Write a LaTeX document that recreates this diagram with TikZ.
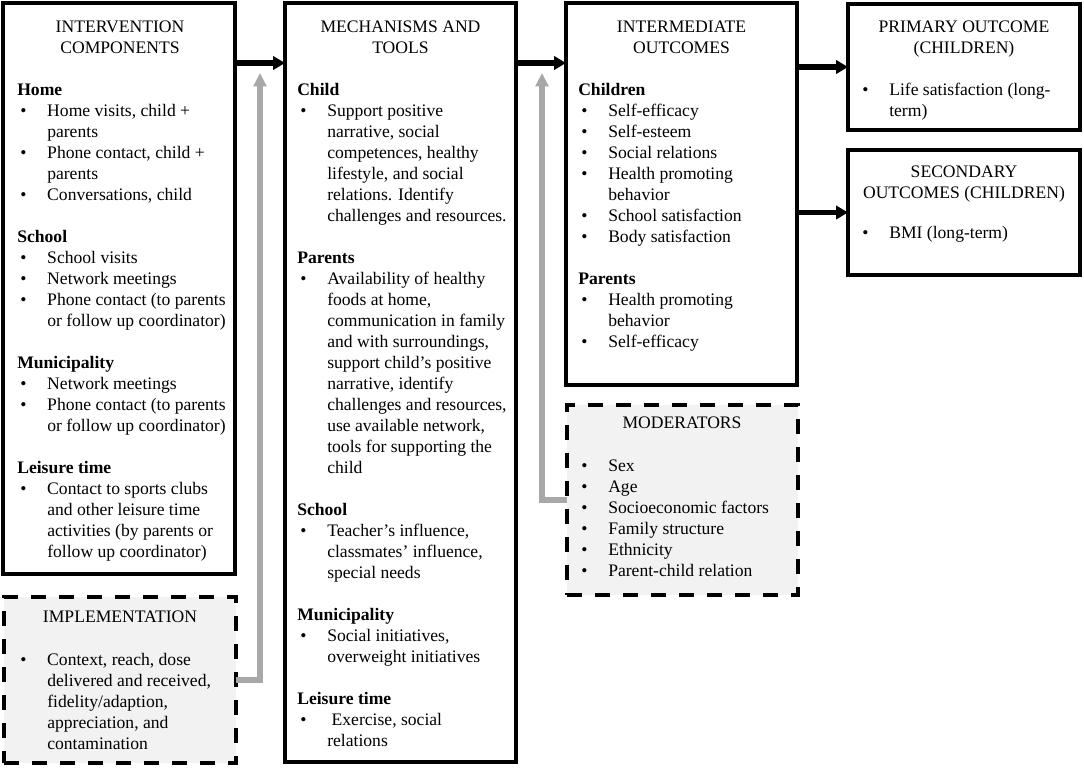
\documentclass[tikz,border=0pt]{standalone}
\usepackage{fontspec}
\setmainfont{Liberation Serif}
\usetikzlibrary{arrows.meta,calc}

\definecolor{boxgray}{HTML}{F2F2F2}
\definecolor{arrgray}{HTML}{A8A8A8}

\def\px{0.75pt}
\newcommand{\itm}{\hspace*{2.25pt}\makebox[20.25pt][l]{\textbullet}}
\newcommand{\cnt}{\hspace*{22.5pt}}
\newcommand{\fst}{\rule{0pt}{12pt}}
\newcommand{\gap}{\\[15.75pt]}

\tikzset{
  box/.style={draw, line width=3pt, anchor=north west, inner sep=0pt, outer sep=0pt},
  dbox/.style={box, fill=boxgray, line width=3.5pt, dash pattern=on 11pt off 10pt},
  txt/.style={anchor=north west, align=left, inner sep=0pt, font=\fontsize{13.2}{15.75}\selectfont},
  ttl/.style={anchor=north, align=center, inner sep=0pt, font=\fontsize{13.2}{15.75}\selectfont},
  arr/.style={line width=4pt, -{Triangle[length=9pt,width=10pt]}},
  garr/.style={line width=4pt, draw=arrgray, arrgray, -{Triangle[length=10pt,width=9.5pt]}},
}

\begin{document}
\begin{tikzpicture}[x=0.75pt, y=-0.75pt]
\useasboundingbox (0,0) rectangle (1084,770);

%%%%%%%%%%%%%%%%%%%%%%%%%%%%%%%%%%%%%%%%%%%%%%%%%%%%%%%%%%%%%%%%%
%%%%%%%%%%%%%%%%%%%%%%%%%%%%%% boxes
\node [box, minimum width=232*\px, minimum height=571*\px] (comp) at (3,3) {};
\node [box, minimum width=231*\px, minimum height=759*\px] (mech) at (285,3) {};
\node [box, minimum width=231*\px, minimum height=382*\px] (inter) at (566,3) {};
\node [box, minimum width=232*\px, minimum height=126*\px] (prim) at (848,4) {};
\node [box, minimum width=232*\px, minimum height=125*\px] (sec) at (848,150) {};

\node [dbox, minimum width=232*\px, minimum height=166*\px] (impl) at (4,597) {};
\node [dbox, minimum width=231*\px, minimum height=190*\px] (moder) at (567,405) {};

%%%%%%%%%%%%%%%%%%%%%%%%%%%%%% intervention components
\node [ttl] (comptitle) at (120,16) {\fst INTERVENTION\\COMPONENTS};
\node [txt] (comptext) at (17,79) {\fst\textbf{Home}\\
\itm Home visits, child +\\
\cnt parents\\
\itm Phone contact, child +\\
\cnt parents\\
\itm Conversations, child\gap
\textbf{School}\\
\itm School visits\\
\itm Network meetings\\
\itm Phone contact (to parents\\
\cnt or follow up coordinator)\gap
\textbf{Municipality}\\
\itm Network meetings\\
\itm Phone contact (to parents\\
\cnt or follow up coordinator)\gap
\textbf{Leisure time}\\
\itm Contact to sports clubs\\
\cnt and other leisure time\\
\cnt activities (by parents or\\
\cnt follow up coordinator)};

%%%%%%%%%%%%%%%%%%%%%%%%%%%%%% mechanisms and tools
\node [ttl] (mechtitle) at (400.5,16) {\fst MECHANISMS AND\\TOOLS};
\node [txt] (mechtext) at (297,79) {\fst\textbf{Child}\\
\itm Support positive\\
\cnt narrative, social\\
\cnt competences, healthy\\
\cnt lifestyle, and social\\
\cnt relations. Identify\\
\cnt challenges and resources.\gap
\textbf{Parents}\\
\itm Availability of healthy\\
\cnt foods at home,\\
\cnt communication in family\\
\cnt and with surroundings,\\
\cnt support child's positive\\
\cnt narrative, identify\\
\cnt challenges and resources,\\
\cnt use available network,\\
\cnt tools for supporting the\\
\cnt child\gap
\textbf{School}\\
\itm Teacher's influence,\\
\cnt classmates' influence,\\
\cnt special needs\gap
\textbf{Municipality}\\
\itm Social initiatives,\\
\cnt overweight initiatives\gap
\textbf{Leisure time}\\
\itm\ Exercise, social\\
\cnt relations};

%%%%%%%%%%%%%%%%%%%%%%%%%%%%%% intermediate outcomes
\node [ttl] (intertitle) at (681.5,16) {\fst INTERMEDIATE\\OUTCOMES};
\node [txt] (intertext) at (578,79) {\fst\textbf{Children}\\
\itm Self-efficacy\\
\itm Self-esteem\\
\itm Social relations\\
\itm Health promoting\\
\cnt behavior\\
\itm School satisfaction\\
\itm Body satisfaction\gap
\textbf{Parents}\\
\itm Health promoting\\
\cnt behavior\\
\itm Self-efficacy};

%%%%%%%%%%%%%%%%%%%%%%%%%%%%%% outcomes
\node [ttl] (primtitle) at (964,16) {\fst PRIMARY OUTCOME\\(CHILDREN)};
\node [txt] (primtext) at (859,79) {\fst\itm Life satisfaction (long-\\
\cnt term)};

\node [ttl] (sectitle) at (964,161) {\fst SECONDARY\\OUTCOMES (CHILDREN)};
\node [txt] (sectext) at (859,222) {\fst\itm BMI (long-term)};

%%%%%%%%%%%%%%%%%%%%%%%%%%%%%% implementation and moderators
\node [ttl] (impltitle) at (120,606) {\fst IMPLEMENTATION};
\node [txt] (impltext) at (17,649) {\fst\itm Context, reach, dose\\
\cnt delivered and received,\\
\cnt fidelity/adaption,\\
\cnt appreciation, and\\
\cnt contamination};

\node [ttl] (modertitle) at (682,412) {\fst MODERATORS};
\node [txt] (modertext) at (578,455) {\fst\itm Sex\\
\itm Age\\
\itm Socioeconomic factors\\
\itm Family structure\\
\itm Ethnicity\\
\itm Parent-child relation};

%%%%%%%%%%%%%%%%%%%%%%%%%%%%%% arrows
\draw [arr] ($(comp.north east)+(0,60)$) -- ($(mech.north west)+(0,60)$);
\draw [arr] ($(mech.north east)+(0,60)$) -- ($(inter.north west)+(0,60)$);
\draw [arr] (inter.east |- prim.west) -- (prim.west);
\draw [arr] (inter.east |- sec.west) -- (sec.west);

\coordinate (gtop1) at (260,73);
\coordinate (gtop2) at (542,73);
\draw [garr] (impl.east) -| (gtop1);
\draw [garr] (moder.west) -| (gtop2);

%%%%%%%%%%%%%%%%%%%%%%%%%%%%%%%%%%%%%%%%%%%%%%%%%%%%%%%%%%%%%%%%%

\end{tikzpicture}
\end{document}
